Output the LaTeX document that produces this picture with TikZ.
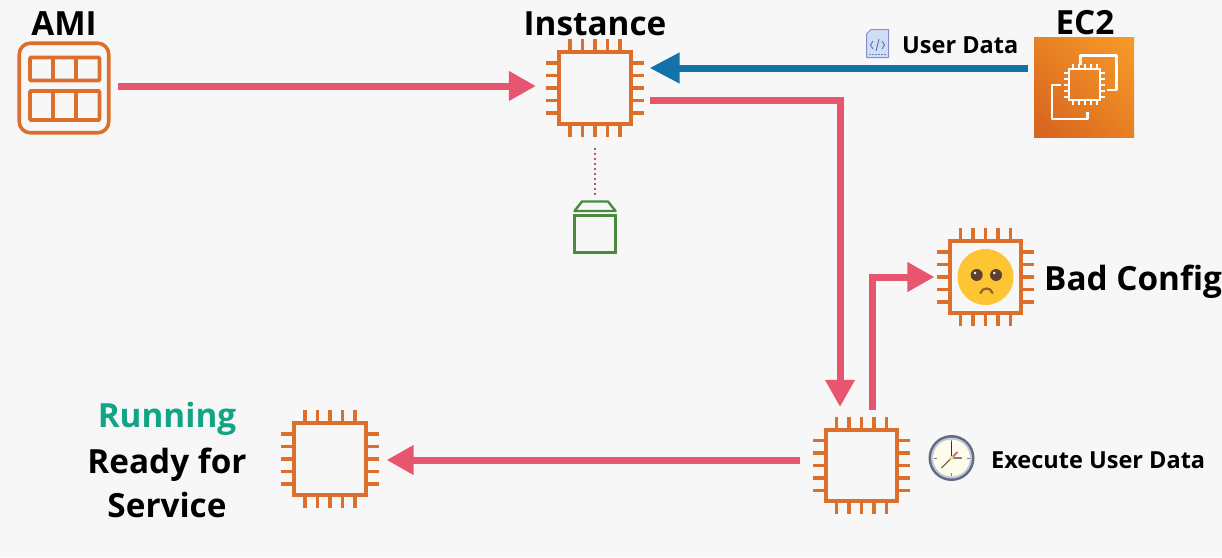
\documentclass[tikz,border=0pt]{standalone}
\usepackage{fontspec}
\setmainfont{Open Sans}
\usetikzlibrary{arrows.meta,calc,shadings}
\definecolor{bgc}{HTML}{F7F7F7}
\definecolor{orangec}{HTML}{DB6F2B}
\definecolor{pinkc}{HTML}{E7566E}
\definecolor{bluec}{HTML}{1273A8}
\definecolor{greenc}{HTML}{4A8A3E}
\definecolor{tealc}{HTML}{12A585}
\definecolor{dotc}{HTML}{C4507A}
\tikzset{
  chipbody/.style={draw=orangec,line width=3.6pt,minimum size=71.5pt,inner sep=0pt,fill=bgc},
  pinline/.style={draw=orangec,line width=3.4pt},
  conn/.style={line width=7pt,draw=pinkc,-{Triangle[length=27pt,width=28pt,fill=pinkc]}},
  bigtext/.style={font=\fontsize{33.3}{40}\selectfont\bfseries,inner sep=0pt,text=black,anchor=base},
  smalltext/.style={font=\fontsize{23.5}{28}\selectfont\bfseries,inner sep=0pt,text=black,anchor=base west},
}
\newcommand{\chipat}[3]{%
  \node[chipbody] (#1) at (#2,#3) {};
  \foreach \off in {-25,-12.5,0,12.5,25}{
    \draw[pinline] ($(#1.north)+(\off pt,0)$) -- ++(0,11pt);
    \draw[pinline] ($(#1.south)+(\off pt,0)$) -- ++(0,-11pt);
    \draw[pinline] ($(#1.west)+(0,\off pt)$) -- ++(-11pt,0);
    \draw[pinline] ($(#1.east)+(0,\off pt)$) -- ++(11pt,0);
  }}
\begin{document}
\begin{tikzpicture}[x=1pt,y=-1pt]
\useasboundingbox (0,0) rectangle (1222,557);
\fill[bgc] (0,0) rectangle (1222,557);

% AMI
\node[draw=orangec,line width=3.6pt,rounded corners=11pt,minimum size=89.5pt,inner sep=0pt] (ami) at (64,88) {};
\draw[orangec,line width=3.6pt,rounded corners=1pt] (30,57.5) rectangle (99.5,80.5);
\draw[orangec,line width=3.6pt,rounded corners=1pt] (30,91) rectangle (99.5,120);
\foreach \xx in {53,76}{
  \draw[orangec,line width=3.6pt] (\xx,57.5) -- (\xx,80.5);
  \draw[orangec,line width=3.6pt] (\xx,91) -- (\xx,120);
}

% chips
\chipat{inst}{595}{88}
\chipat{exec}{861.5}{465.5}
\chipat{bad}{985.5}{277}
\chipat{run}{330}{459}

% EC2
\node[minimum size=100pt,inner sep=0pt,shading=bilinear interpolation,
  lower left={rgb,255:red,214;green,98;blue,31},upper right={rgb,255:red,246;green,155;blue,40},
  upper left={rgb,255:red,232;green,128;blue,36},lower right={rgb,255:red,232;green,128;blue,36}] (ec2) at (1084,87.5) {};
\draw[white,line width=2.6pt,line join=round] (1080.7,65) -- (1080.7,55.7) -- (1116.7,55.7) -- (1116.7,90) -- (1106.7,90);
\draw[white,line width=2.6pt,line join=round] (1060.7,85) -- (1052,85) -- (1052,119) -- (1087.3,119) -- (1087.3,111.7);
\draw[white,line width=2.6pt] (1069,69) rectangle (1100,100);
\foreach \off in {-12,-6,0,6,12}{
  \draw[white,line width=2pt] (1084.5+\off,69) -- ++(0,-5);
  \draw[white,line width=2pt] (1084.5+\off,100) -- ++(0,5);
  \draw[white,line width=2pt] (1069,84.5+\off) -- ++(-5,0);
  \draw[white,line width=2pt] (1100,84.5+\off) -- ++(5,0);
}

% storage box
\node[draw=greenc,line width=2.4pt,minimum width=41pt,minimum height=37pt,inner sep=0pt] (vol) at (595,234) {};
\draw[greenc,line width=2.4pt,line join=round] (574.5,211) -- (582,201.5) -- (608,201.5) -- (615.5,211) -- cycle;

% connectors
\draw[dotc,line width=2.6pt,dash pattern=on 2.4pt off 2.6pt,shorten <=22pt,shorten >=18pt] (inst.south) -- (vol.north);
\draw[conn,shorten <=7pt,shorten >=21.5pt] ([yshift=2pt]ami.east) -- ([yshift=2pt]inst.west);
\draw[conn,draw=bluec,-{Triangle[length=30pt,width=29pt,fill=bluec]},shorten <=6pt,shorten >=17pt] (ec2.west |- 0,68) -- ([yshift=20pt]inst.east);
\draw[conn,shorten <=17pt,shorten >=21pt] ([yshift=-12pt]inst.east) -| ([xshift=-21.5pt]exec.north);
\draw[conn,shorten <=18pt,shorten >=13.5pt] ([xshift=10.5pt]exec.north) |- (bad.west);
\draw[conn,shorten <=24pt,shorten >=19pt] ([yshift=5.5pt]exec.west) -- ([yshift=-1pt]run.east);

% face
\fill[fill={rgb,255:red,253;green,197;blue,52}] (985.5,277) circle (28);
\fill[fill={rgb,255:red,92;green,64;blue,51}] (976.7,275) circle (6);
\fill[fill={rgb,255:red,92;green,64;blue,51}] (996,275) circle (6);
\fill[white] (975,273) circle (1.4);
\fill[white] (994.3,273) circle (1.4);
\draw[line width=2.2pt,draw={rgb,255:red,150;green,95;blue,45},line cap=round] (980.5,293) .. controls (982,287) and (991,287) .. (992.5,293);

% clock
\fill[fill={rgb,255:red,96;green,106;blue,130}] (951.5,458) circle (23);
\fill[fill={rgb,255:red,190;green,198;blue,215}] (951.5,458) circle (20.5);
\fill[fill={rgb,255:red,253;green,251;blue,236}] (951.5,458) circle (18.5);
\foreach \a in {0,90,180,270}{\draw[gray,line width=0.8pt] (951.5,458) ++(\a:18) -- ++(\a:-3);}
\draw[line width=1.2pt,black!80] (951.5,458) -- (951.5,442);
\draw[line width=1.2pt,gray] (951.5,458) -- (962,458);
\draw[line width=1.3pt,draw={rgb,255:red,150;green,90;blue,70}] (941.5,468) -- (951.5,458);
\draw[line width=2pt,draw={rgb,255:red,205;green,110;blue,130}] (951.5,458) -- (957.5,452);
\fill[fill={rgb,255:red,240;green,220;blue,140}] (951.5,458) circle (2);

% document icon
\draw[draw={rgb,255:red,140;green,140;blue,205},fill={rgb,255:red,205;green,222;blue,245},line width=1pt,line join=round] (871,29.5) -- (888.5,29.5) -- (888.5,57.5) -- (866.5,57.5) -- (866.5,34) -- cycle;
\draw[draw={rgb,255:red,95;green,115;blue,170},line width=0.9pt] (873,41) -- (870.5,45) -- (873,49) (882,41) -- (884.5,45) -- (882,49) (879,39) -- (876,51);
\draw[draw={rgb,255:red,110;green,130;blue,180},line width=0.8pt,dash pattern=on 1.5pt off 1.5pt] (869,54) -- (886,54);

% text
\node[bigtext] (tami) at (64,35) {AMI};
\node[bigtext] (tinst) at (595,35) {Instance};
\node[bigtext] (tec2) at (1085,34) {EC2};
\node[bigtext,anchor=base west] (tbad) at (1044,290) {Bad Config};
\node[bigtext,text=tealc] (trun) at (167,427) {Running};
\node[bigtext] (tready) at (167,473) {Ready for};
\node[bigtext] (tserv) at (167,517) {Service};
\node[smalltext] (tuser) at (902,53) {User Data};
\node[smalltext] (texec) at (991,468) {Execute User Data};
\end{tikzpicture}
\end{document}
